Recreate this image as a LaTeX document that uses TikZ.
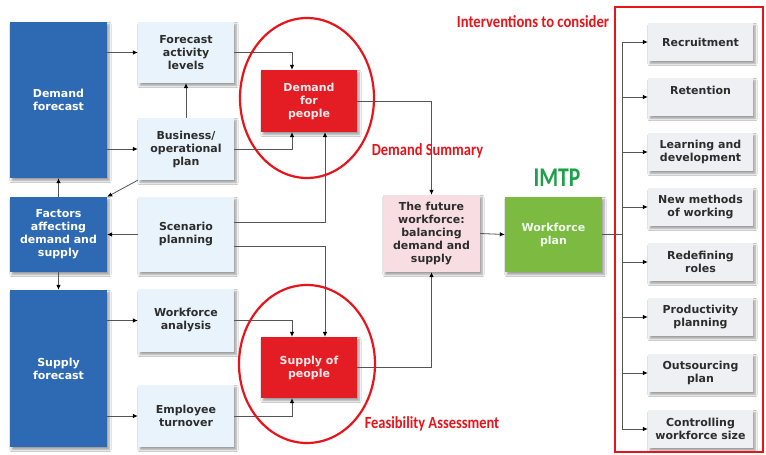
\documentclass[tikz,border=0pt]{standalone}
\usepackage{fontspec}
\setmainfont{DejaVu Sans}
\newfontfamily\notefont{Carlito}
\usetikzlibrary{arrows.meta,shadows.blur}

\definecolor{deepblue}{RGB}{46,106,180}
\definecolor{paleblue}{RGB}{232,243,251}
\definecolor{boxred}{RGB}{228,28,36}
\definecolor{palepink}{RGB}{248,222,226}
\definecolor{leafgreen}{RGB}{124,186,66}
\definecolor{palegray}{RGB}{238,240,243}
\definecolor{linegray}{RGB}{85,85,85}
\definecolor{textgray}{RGB}{45,45,45}
\definecolor{markred}{RGB}{232,20,28}
\definecolor{titlegreen}{RGB}{30,160,75}

\tikzset{
  box/.style={rectangle, inner sep=2pt, align=center,
    font=\bfseries\fontsize{11}{13}\selectfont,
    blur shadow={shadow xshift=2pt, shadow yshift=-2.5pt, shadow blur steps=6, shadow opacity=40}},
  bluebox/.style={box, fill=deepblue, text=white, minimum width=97pt},
  lightbox/.style={box, fill=paleblue, text=textgray, minimum width=96pt},
  redbox/.style={box, fill=boxred, text=red!8, minimum width=96pt, minimum height=62pt},
  pinkbox/.style={box, fill=palepink, text=textgray, minimum width=97pt, minimum height=77pt},
  greenbox/.style={box, fill=leafgreen, text=green!6, minimum width=97pt, minimum height=75pt},
  optbox/.style={box, fill=palegray, text=textgray, minimum width=105pt, minimum height=38pt},
  arr/.style={draw=linegray, line width=0.8pt, -{Latex[length=5pt,width=4.5pt,color=black]}},
  link/.style={draw=linegray, line width=0.8pt},
  ring/.style={draw=markred, line width=2.2pt},
  note/.style={inner sep=0pt, text=markred, font=\notefont\bfseries\fontsize{17}{17}\selectfont},
}

\begin{document}
\begin{tikzpicture}[x=1pt,y=-1pt]
\useasboundingbox[fill=white] (0,0) rectangle (766,455);

% demand side
\node[bluebox, minimum height=156pt] (dfore) at (58.5,100) {Demand\\forecast};
\node[lightbox, minimum height=61pt] (fal) at (186,52.5) {Forecast\\activity\\levels};
\node[lightbox, minimum height=62pt] (bop) at (186,149) {Business/\\operational\\plan};
\node[redbox] (dfp) at (309,101) {Demand\\for\\people};

% shared factors and scenarios
\node[bluebox, minimum height=75pt] (fac) at (58.5,234.5) {Factors\\affecting\\demand and\\supply};
\node[lightbox, minimum height=75pt] (scen) at (186,234.5) {Scenario\\planning};

% supply side
\node[bluebox, minimum height=157pt] (sfore) at (58.5,368.5) {Supply\\forecast};
\node[lightbox, minimum height=63pt] (wfa) at (186,320.5) {Workforce\\analysis};
\node[lightbox, minimum height=62pt] (emp) at (186,416) {Employee\\turnover};
\node[redbox, minimum height=61pt] (sup) at (309,367.5) {Supply of\\people};

% balance and plan
\node[pinkbox] (fut) at (431.5,233.5) {The future\\workforce:\\balancing\\demand and\\supply};
\node[greenbox] (wfp) at (553.5,234.5) {Workforce\\plan};

% interventions
\node[optbox] (r1) at (700.5,42) {Recruitment};
\node[optbox] (r2) at (700.5,97) {Retention\\\mbox{}};
\node[optbox] (r3) at (700.5,152) {Learning and\\development};
\node[optbox] (r4) at (700.5,207) {New methods\\of working};
\node[optbox] (r5) at (700.5,262) {Redefining\\roles};
\node[optbox] (r6) at (700.5,317) {Productivity\\planning};
\node[optbox] (r7) at (700.5,373) {Outsourcing\\plan};
\node[optbox] (r8) at (700.5,429) {Controlling\\workforce size};

% connectors on the demand side
\draw[arr] (dfore.east |- fal.west) -- (fal.west);
\draw[arr] (dfore.east |- bop.west) -- (bop.west);
\draw[arr] (bop.north) -- (fal.south);
\draw[arr] (fal.east) -| ([xshift=-17pt]dfp.north);
\draw[arr] (bop.east) -| ([xshift=-17pt]dfp.south);
\draw[arr] (bop.south west) -- (fac.north east);
\draw[arr] (fac.north) -- (dfore.south);

% connectors from scenario planning
\draw[arr] ([yshift=12.5pt]scen.east) -| ([xshift=16pt]dfp.south);
\draw[arr] (scen.west) -- (fac.east);
\draw[arr] ([yshift=-11.5pt]scen.east) -| ([xshift=16pt]sup.north);

% connectors on the supply side
\draw[arr] (fac.south) -- (sfore.north);
\draw[arr] (sfore.east |- wfa.west) -- (wfa.west);
\draw[arr] (sfore.east |- emp.west) -- (emp.west);
\draw[arr] (wfa.east) -| ([xshift=-17pt]sup.north);
\draw[arr] (emp.east) -| ([xshift=-17pt]sup.south);

% towards the plan
\draw[arr] (dfp.east) -| (fut.north);
\draw[arr] (sup.east) -| (fut.south);
\draw[arr] (fut.east) -- (wfp.west);

% distribution bus to the interventions
\coordinate (bus) at (622,234.5);
\draw[link] (wfp.east) -- (bus);
\draw[link] (r1.west -| bus) -- (r8.west -| bus);
\foreach \r in {r1,r2,r3,r4,r5,r6,r7,r8}
  \draw[arr] (\r.west -| bus) -- (\r.west);

% highlight marks
\draw[ring] (307,98) ellipse [x radius=67, y radius=80];
\draw[ring] (307,364) ellipse [x radius=68, y radius=79];
\draw[draw=markred, line width=1.5pt] (615,7) rectangle (763,452);

% annotations
\node[note] (dsum) at (427.5,151) {\scalebox{0.85}[1]{Demand Summary}};
\node[note] (feas) at (432,424) {\scalebox{0.85}[1]{Feasibility Assessment}};
\node[note] (intv) at (533,22) {\scalebox{0.86}[1]{Interventions to consider}};
\node[note, text=titlegreen, font=\notefont\bfseries\fontsize{27}{27}\selectfont] (imtp) at (557,178) {\scalebox{0.8}[1]{IMTP}};
\end{tikzpicture}
\end{document}
